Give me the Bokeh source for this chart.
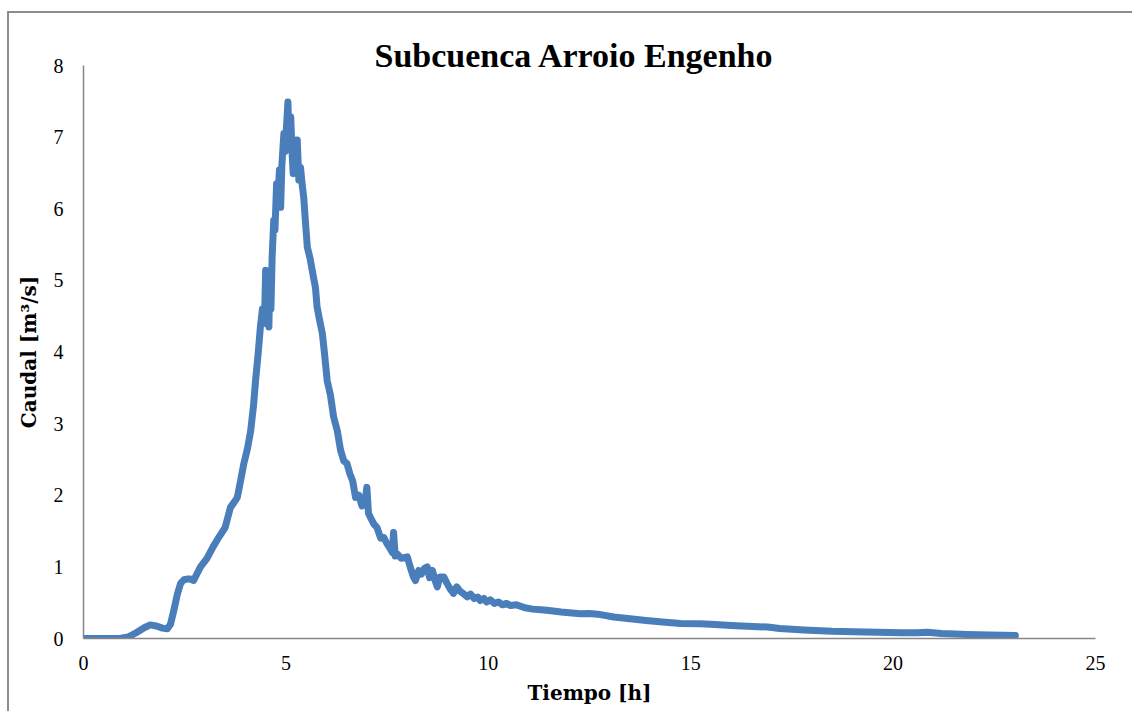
from bokeh.plotting import figure
from bokeh.models import Range1d, FixedTicker, Title
from bokeh.embed import file_html
from bokeh.resources import INLINE

# Data
tiempo_h = [
    0.0, 0.5, 0.9, 1.1, 1.3, 1.5, 1.65, 1.8, 1.95, 2.07, 2.15, 2.23, 2.32, 2.4, 2.48,
    2.56, 2.64, 2.72, 2.8, 2.89, 3.05, 3.2, 3.35, 3.5, 3.63, 3.72, 3.8, 3.88, 3.96,
    4.05, 4.13, 4.2, 4.25, 4.31, 4.37, 4.42, 4.47, 4.5, 4.54, 4.58, 4.6, 4.63, 4.66,
    4.7, 4.73, 4.77, 4.8, 4.84, 4.87, 4.9, 4.95, 4.98, 5.0, 5.05, 5.08, 5.12, 5.15,
    5.18, 5.22, 5.25, 5.28, 5.32, 5.36, 5.4, 5.44, 5.48, 5.53, 5.6, 5.65, 5.73, 5.77,
    5.83, 5.9, 5.95, 6.02, 6.1, 6.18, 6.27, 6.35, 6.43, 6.51, 6.58, 6.65, 6.72, 6.8,
    6.88, 6.95, 7.0, 7.04, 7.09, 7.17, 7.25, 7.34, 7.42, 7.5, 7.58, 7.63, 7.66, 7.7,
    7.75, 7.85, 8.0, 8.07, 8.15, 8.2, 8.28, 8.35, 8.42, 8.49, 8.55, 8.62, 8.68, 8.74,
    8.8, 8.9, 8.98, 9.05, 9.14, 9.22, 9.3, 9.4, 9.48, 9.56, 9.65, 9.74, 9.8, 9.89,
    9.96, 10.05, 10.15, 10.25, 10.35, 10.45, 10.55, 10.7, 10.9, 11.1, 11.3, 11.5,
    11.8, 12.0, 12.28, 12.5, 12.7, 13.1, 13.5, 13.9, 14.3, 14.75, 15.24, 15.6, 16.0,
    16.4, 16.9, 17.2, 17.8, 18.5, 19.3, 20.2, 20.6, 20.84, 21.2, 21.83, 22.4, 23.02,
]
caudal_m3s = [
    0.0, 0.0, 0.0, 0.02, 0.08, 0.15, 0.19, 0.175, 0.145, 0.135, 0.2, 0.39, 0.62, 0.77, 0.82,
    0.83, 0.83, 0.81, 0.9, 1.0, 1.12, 1.28, 1.42, 1.55, 1.83, 1.9, 1.97, 2.2, 2.44,
    2.65, 2.9, 3.25, 3.6, 3.95, 4.35, 4.6, 4.4, 5.14, 4.5, 4.35, 5.0, 4.6, 5.33,
    5.84, 5.7, 6.35, 6.1, 6.54, 6.02, 6.6, 7.05, 6.8, 7.0, 7.49, 6.9, 7.28, 6.8,
    6.49, 6.96, 6.7, 6.96, 6.4, 6.58, 6.35, 6.16, 5.84, 5.46, 5.3, 5.14, 4.9, 4.63,
    4.45, 4.26, 4.0, 3.6, 3.4, 3.09, 2.9, 2.63, 2.48, 2.44, 2.3, 2.2, 1.97, 2.0,
    1.85, 1.9, 2.11, 1.75, 1.69, 1.6, 1.55, 1.4, 1.41, 1.32, 1.25, 1.2, 1.48, 1.15,
    1.18, 1.12, 1.14, 1.0, 0.86, 0.81, 0.95, 0.9, 0.98, 1.0, 0.85, 0.95, 0.82, 0.72,
    0.86, 0.86, 0.77, 0.7, 0.63, 0.72, 0.66, 0.62, 0.58, 0.62, 0.56, 0.58, 0.53, 0.56,
    0.51, 0.54, 0.49, 0.51, 0.47, 0.49, 0.46, 0.47, 0.43, 0.41, 0.4, 0.39,
    0.37, 0.36, 0.345, 0.35, 0.34, 0.3, 0.275, 0.25, 0.23, 0.21, 0.205, 0.195, 0.18,
    0.17, 0.16, 0.14, 0.12, 0.10, 0.09, 0.08, 0.08, 0.088, 0.07, 0.056, 0.05, 0.042,
]
x_ticks = [0, 5, 10, 15, 20, 25]
y_ticks = [0, 1, 2, 3, 4, 5, 6, 7, 8]
title_text = "Subcuenca Arroio Engenho"
x_label = "Tiempo [h]"
y_label = "Caudal [m³/s]"

SERIF = "Liberation Serif"
LABEL_SERIF = "DejaVu Serif"
AXIS_GREY = "#868686"

p = figure(
    width=1125, height=700,
    output_backend="svg", toolbar_location=None,
    x_range=Range1d(0, 25), y_range=Range1d(0, 8),
    min_border_left=74, min_border_right=39, min_border_top=52, min_border_bottom=75,
)
p.styles = {
    "margin-left": "7px", "margin-top": "11px",
    "border-left": "2px solid #8c8c8c", "border-top": "2px solid #8c8c8c",
}
p.outline_line_color = None
p.background_fill_color = "white"
p.border_fill_color = "white"
p.xgrid.grid_line_color = None
p.ygrid.grid_line_color = None

for ax in (p.xaxis[0], p.yaxis[0]):
    ax.axis_line_color = AXIS_GREY
    ax.axis_line_width = 1.5
    ax.major_tick_line_color = None
    ax.minor_tick_line_color = None
    ax.major_tick_in = 0
    ax.major_tick_out = 0
    ax.major_label_text_font = SERIF
    ax.major_label_text_font_size = "20px"
    ax.major_label_text_color = "black"
    ax.axis_label_text_font = LABEL_SERIF
    ax.axis_label_text_font_style = "bold"
    ax.axis_label_text_font_size = "20px"
    ax.axis_label_text_color = "black"

p.xaxis.ticker = FixedTicker(ticks=x_ticks)
p.yaxis.ticker = FixedTicker(ticks=y_ticks)
p.xaxis.axis_label = x_label
p.yaxis.axis_label = y_label
p.xaxis.major_label_standoff = 17
p.yaxis.major_label_standoff = 20
p.xaxis.axis_label_standoff = 8
p.yaxis.axis_label_standoff = 10

p.line(tiempo_h, caudal_m3s, line_width=7, line_color="#4a7ebb",
       line_join="round", line_cap="round")

p.title = Title(text=title_text, align="left", offset=291, standoff=-17,
                vertical_align="bottom",
                text_font=SERIF, text_font_style="bold", text_font_size="34px",
                text_color="black")

open("out.html", "w").write(file_html(p, INLINE))
